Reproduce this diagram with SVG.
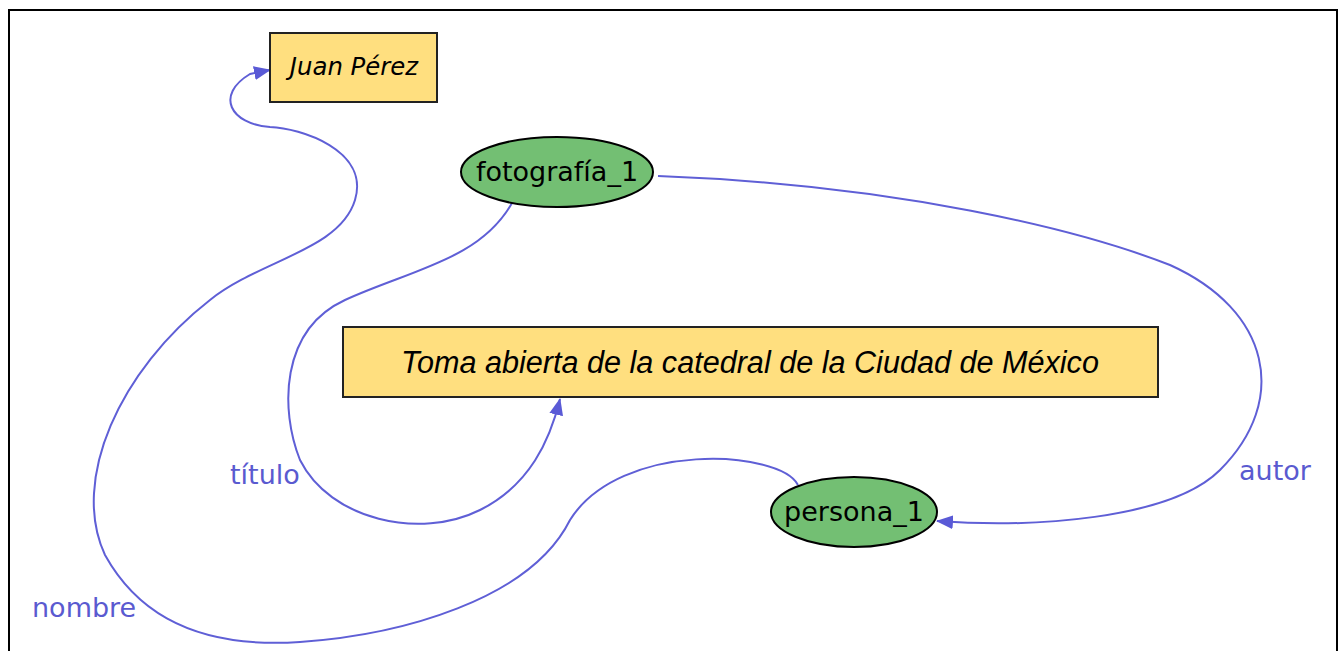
<svg xmlns="http://www.w3.org/2000/svg" width="1338" height="651" viewBox="0 0 1338 651">
<style>
.edge{fill:none;stroke:#5f5fd6;stroke-width:2}
.lbl{font-family:"DejaVu Sans",sans-serif;font-size:27px;fill:#5a5ad0}
.lit{fill:#ffdf7f;stroke:#222;stroke-width:2}
.res{fill:#73bf73;stroke:#000;stroke-width:2}
.nt{font-family:"DejaVu Sans",sans-serif;font-size:27px;fill:#000;text-anchor:middle}
</style>
<defs>
<marker id="ah" markerWidth="17" markerHeight="14" refX="16" refY="7" orient="auto" markerUnits="userSpaceOnUse">
<path d="M0,0 L17,7 L0,14 z" fill="#5a5ad6"/>
</marker>
</defs>
<rect x="0" y="0" width="1338" height="651" fill="#fff"/>
<path d="M9,652 L9,10 L1337,10 L1337,652" fill="none" stroke="#000" stroke-width="2"/>
<g id="edges">
<path class="edge" marker-end="url(#ah)" d="M512,203 C480,260 410,270 345,300 C280,330 280,410 300,460 C330,520 420,540 480,510 C530,485 550,440 560,399"/>
<path class="edge" marker-end="url(#ah)" d="M658,176 C900,185 1080,230 1170,265 C1270,310 1290,400 1220,470 C1170,520 1030,528 937,521"/>
<path class="edge" marker-end="url(#ah)" d="M798,485 C780,450 620,440 570,520 C530,600 400,635 300,642 C180,650 130,600 105,555 C70,480 120,370 210,300 C260,260 340,250 355,200 C370,150 300,128 270,127 C230,124 215,95 250,74 L270,70"/>
<text class="lbl" x="230" y="484">título</text>
<text class="lbl" x="1239" y="480">autor</text>
<text class="lbl" x="32" y="617">nombre</text>
</g>
<g id="juan">
<rect class="lit" x="270" y="33" width="167" height="69"/>
<text class="nt" x="354" y="75" style="font-style:italic;font-size:24.4px">Juan Pérez</text>
</g>
<g id="fotografia_1">
<ellipse class="res" cx="557" cy="172" rx="96" ry="35"/>
<text class="nt" x="557" y="181">fotografía_1</text>
</g>
<g id="toma">
<rect class="lit" x="343" y="327" width="815" height="70"/>
<text x="750" y="373" text-anchor="middle" font-family="Liberation Sans, Arial, sans-serif" font-style="italic" font-size="30.6">Toma abierta de la catedral de la Ciudad de México</text>
</g>
<g id="persona_1">
<ellipse class="res" cx="854" cy="512" rx="83" ry="35"/>
<text class="nt" x="854" y="521">persona_1</text>
</g>
</svg>
